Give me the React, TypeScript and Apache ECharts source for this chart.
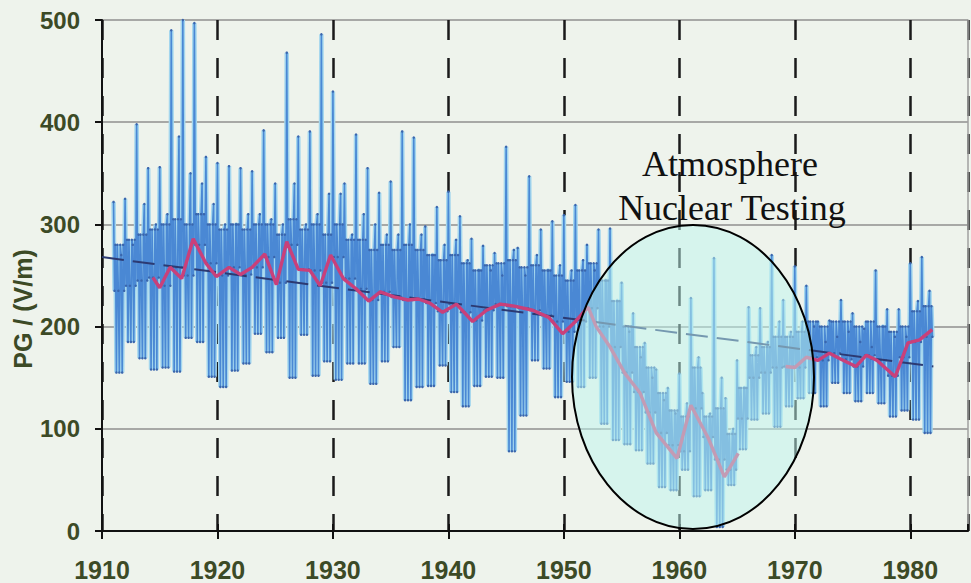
import React, { useEffect, useRef } from "react";
import * as echarts from "echarts";

// ---- Data ----
const years = [
  1911, 1912, 1913, 1914, 1915, 1916, 1917, 1918, 1919, 1920,
  1921, 1922, 1923, 1924, 1925, 1926, 1927, 1928, 1929, 1930,
  1931, 1932, 1933, 1934, 1935, 1936, 1937, 1938, 1939, 1940,
  1941, 1942, 1943, 1944, 1945, 1946, 1947, 1948, 1949, 1950,
  1951, 1952, 1953, 1954, 1955, 1956, 1957, 1958, 1959, 1960,
  1961, 1962, 1963, 1964, 1965, 1966, 1967, 1968, 1969, 1970,
  1971, 1972, 1973, 1974, 1975, 1976, 1977, 1978, 1979, 1980,
  1981,
];

// winter peak of each year (V/m)
const peakVals = [
  322, 325, 398, 355, 356, 490, 500, 497, 366, 360,
  357, 355, 352, 392, 340, 468, 386, 391, 486, 430,
  340, 388, 355, 331, 342, 391, 385, 298, 317, 332,
  308, 286, 279, 272, 376, 277, 347, 295, 303, 309,
  319, 280, 295, 296, 243, 213, 184, 158, 140, 154,
  228, 135, 267, 130, 167, 219, 218, 270, 226, 259,
  240, 205, 206, 226, 213, 198, 255, 217, 217, 262,
  268,
];

// secondary spikes of each year
const highVals = [
  270, 280, 320, 300, 310, 386, 350, 340, 320, 300,
  300, 310, 310, 305, 300, 340, 300, 310, 330, 330,
  290, 310, 300, 290, 290, 300, 290, 270, 280, 285,
  265, 255, 255, 250, 275, 250, 270, 255, 260, 255,
  265, 255, 245, 225, 195, 170, 150, 128, 115, 125,
  170, 115, 150, 100, 140, 180, 185, 205, 195, 205,
  200, 185, 190, 195, 185, 180, 200, 190, 190, 225,
  235,
];

// upper edge of the dense band of each year
const upperVals = [
  280, 285, 290, 295, 300, 305, 300, 310, 300, 295,
  300, 295, 300, 300, 290, 305, 295, 300, 290, 300,
  285, 285, 275, 280, 275, 280, 275, 270, 265, 270,
  262, 255, 260, 262, 265, 258, 260, 255, 250, 245,
  255, 262, 245, 225, 200, 180, 160, 135, 118, 112,
  160, 112, 120, 95, 140, 172, 180, 190, 190, 195,
  205, 200, 205, 205, 200, 205, 200, 195, 200, 215,
  220,
];

// typical level of each year
const midVals = [
  235, 240, 245, 248, 240, 258, 250, 280, 262, 250,
  258, 251, 258, 268, 243, 280, 256, 255, 243, 268,
  247, 237, 226, 234, 229, 226, 227, 223, 215, 222,
  214, 206, 216, 222, 220, 218, 216, 211, 205, 195,
  205, 218, 200, 180, 155, 136, 116, 96, 84, 78,
  120, 92, 70, 60, 110, 150, 155, 160, 161, 160,
  170, 167, 174, 168, 161, 172, 167, 152, 170, 185,
  190,
];

// summer minimum of each year
const lowVals = [
  155, 185, 169, 158, 160, 156, 189, 185, 151, 141,
  157, 164, 193, 175, 189, 150, 192, 152, 166, 148,
  164, 164, 144, 166, 180, 128, 141, 142, 162, 136,
  122, 142, 151, 150, 78, 113, 167, 159, 131, 146,
  141, 150, 105, 89, 85, 79, 66, 43, 40, 60,
  34, 40, 4, 45, 80, 109, 115, 102, 122, 130,
  135, 122, 145, 135, 127, 135, 125, 112, 118, 109,
  96,
];

// annual means (red line); null = gap
const meanYears = [
  1914.4, 1915.0, 1915.9, 1916.9, 1917.9, 1919.0, 1919.9, 1921.0, 1922.0, 1923.0,
  1924.1, 1925.1, 1926.0, 1927.0, 1928.0, 1928.9, 1929.8, 1930.9, 1932.0, 1933.1,
  1934.1, 1935.3, 1936.5, 1937.4, 1938.4, 1939.5, 1940.7, 1942.1, 1943.3, 1944.5,
  1945.7, 1947.3, 1948.7, 1949.9, 1951.0, 1952.1, 1952.8, 1954.0, 1955.3, 1956.6,
  1958.0, 1959.8, 1961.0, 1962.5, 1963.9, 1965.1, 1967.0, 1969.2, 1970.0, 1971.0,
  1972.0, 1973.0, 1974.0, 1975.3, 1976.2, 1977.1, 1978.7, 1979.8, 1980.8, 1981.9,
];
const meanVals = [
  248, 238, 258, 247, 286, 262, 249, 258, 251, 258,
  271, 241, 283, 256, 255, 240, 270, 247, 237, 225,
  234, 229, 226, 227, 223, 214, 222, 205, 216, 222,
  220, 216, 209, 193, 205, 219, 200, 180, 154, 135,
  96, 71, 123, 91, 53, 76, null, 161, 160, 170,
  167, 174, 168, 161, 172, 167, 151, 184, 187, 197,
];

// long-term trend (dashed)
const trendYears = [1910, 1982];
const trendVals = [268, 161];

const annotationLines = ["Atmosphere", "Nuclear Testing"];
const yAxisTitle = "PG / (V/m)";

// ---- build series data ----
const monthlyData: [number, number][] = [];
years.forEach((y, i) => {
  const pk = peakVals[i];
  const hi = highVals[i];
  const up = upperVals[i];
  const md = midVals[i];
  const lo = lowVals[i];
  const seq = [pk, md, up, lo, up, md, lo, up, hi, lo, up, md];
  seq.forEach((v, m) => monthlyData.push([y + m / 12, v]));
});
const meanData = meanYears.map((y, i) => [y, meanVals[i] === null ? "-" : meanVals[i]]);
const trendData = trendYears.map((y, i) => [y, trendVals[i]]);

const LABEL_COLOR = "#3c4a26";

export default function App() {
  const ref = useRef<HTMLDivElement>(null);
  useEffect(() => {
    if (!ref.current) return;
    const chart = echarts.init(ref.current, undefined, { renderer: "svg" });
    const option: any = {
      animation: false,
      backgroundColor: "#eef3ec",
      grid: { left: 102, right: 3, top: 20, bottom: 52, containLabel: false },
      xAxis: [
        {
          type: "value",
          min: 1910,
          max: 1985,
          interval: 10,
          axisLine: { show: true, lineStyle: { color: "#111", width: 2 } },
          axisTick: { show: true, length: 8, lineStyle: { color: "#111", width: 2 } },
          axisLabel: {
            show: true,
            margin: 26,
            showMaxLabel: false,
            formatter: (v: number) => String(v),
            color: LABEL_COLOR,
            fontSize: 25,
            fontWeight: "bold",
            fontFamily: "Liberation Sans, Arial, sans-serif",
          },
          splitLine: {
            show: true,
            lineStyle: { color: "#1a1a1a", width: 2.5, type: [20, 18] },
          },
        },
        {
          type: "value",
          min: 1910,
          max: 1985,
          interval: 10,
          position: "bottom",
          axisLine: { show: false },
          axisTick: { show: true, inside: true, length: 7, lineStyle: { color: "#111", width: 2 } },
          axisLabel: { show: false },
          splitLine: { show: false },
        },
      ],
      yAxis: [
        {
          type: "value",
          min: 0,
          max: 500,
          interval: 100,
          axisLine: { show: true, lineStyle: { color: "#111", width: 2 } },
          axisTick: { show: true, length: 7, lineStyle: { color: "#111", width: 2 } },
          axisLabel: {
            margin: 22,
            color: LABEL_COLOR,
            fontSize: 24,
            fontWeight: "bold",
            fontFamily: "Liberation Sans, Arial, sans-serif",
          },
          splitLine: { show: true, lineStyle: { color: "#8f8f8f", width: 1.5 } },
        },
        {
          type: "value",
          min: 0,
          max: 500,
          interval: 100,
          position: "right",
          axisLine: { show: true, lineStyle: { color: "#a0a0a0", width: 1.5 } },
          axisTick: { show: false },
          axisLabel: { show: false },
          splitLine: { show: false },
        },
      ],
      series: [
        {
          name: "halo",
          type: "line",
          data: monthlyData,
          symbol: "none",
          lineStyle: { color: "#a3d6ee", width: 4.5 },
          z: 1,
          silent: true,
        },
        {
          name: "PG monthly",
          type: "line",
          data: monthlyData,
          showSymbol: true,
          showAllSymbol: true,
          symbol: "circle",
          symbolSize: 2.5,
          itemStyle: { color: "#3a66ad" },
          lineStyle: { color: "#4a88d4", width: 1.6 },
          z: 2,
        },
        {
          name: "trend",
          type: "line",
          data: trendData,
          symbol: "none",
          lineStyle: { color: "#2c3a72", width: 2, type: [22, 9] },
          z: 3,
        },
        {
          name: "annual mean",
          type: "line",
          data: meanData,
          symbol: "none",
          connectNulls: false,
          lineStyle: { color: "#c9407a", width: 3.4 },
          z: 4,
        },
      ],
      graphic: [
        {
          type: "ellipse",
          z: 100,
          shape: { cx: 693, cy: 377, rx: 121, ry: 152 },
          style: { fill: "rgba(190,245,238,0.5)", stroke: "#000", lineWidth: 2 },
        },
        {
          type: "text",
          z: 101,
          x: 730,
          y: 164,
          style: {
            text: annotationLines[0],
            fill: "#111",
            font: "36px 'Liberation Serif', 'Times New Roman', serif",
            align: "center",
            verticalAlign: "middle",
          },
        },
        {
          type: "text",
          z: 101,
          x: 732,
          y: 208,
          style: {
            text: annotationLines[1],
            fill: "#111",
            font: "36px 'Liberation Serif', 'Times New Roman', serif",
            align: "center",
            verticalAlign: "middle",
          },
        },
        {
          type: "text",
          z: 101,
          x: 23,
          y: 309,
          rotation: Math.PI / 2,
          style: {
            text: yAxisTitle,
            fill: LABEL_COLOR,
            font: "bold 25px 'Liberation Sans', Arial, sans-serif",
            align: "center",
            verticalAlign: "middle",
          },
        },
      ],
    };
    chart.setOption(option);
    return () => chart.dispose();
  }, []);
  return (
    <div
      ref={ref}
      style={{ position: "fixed", left: 0, top: 0, width: 971, height: 583 }}
    />
  );
}
